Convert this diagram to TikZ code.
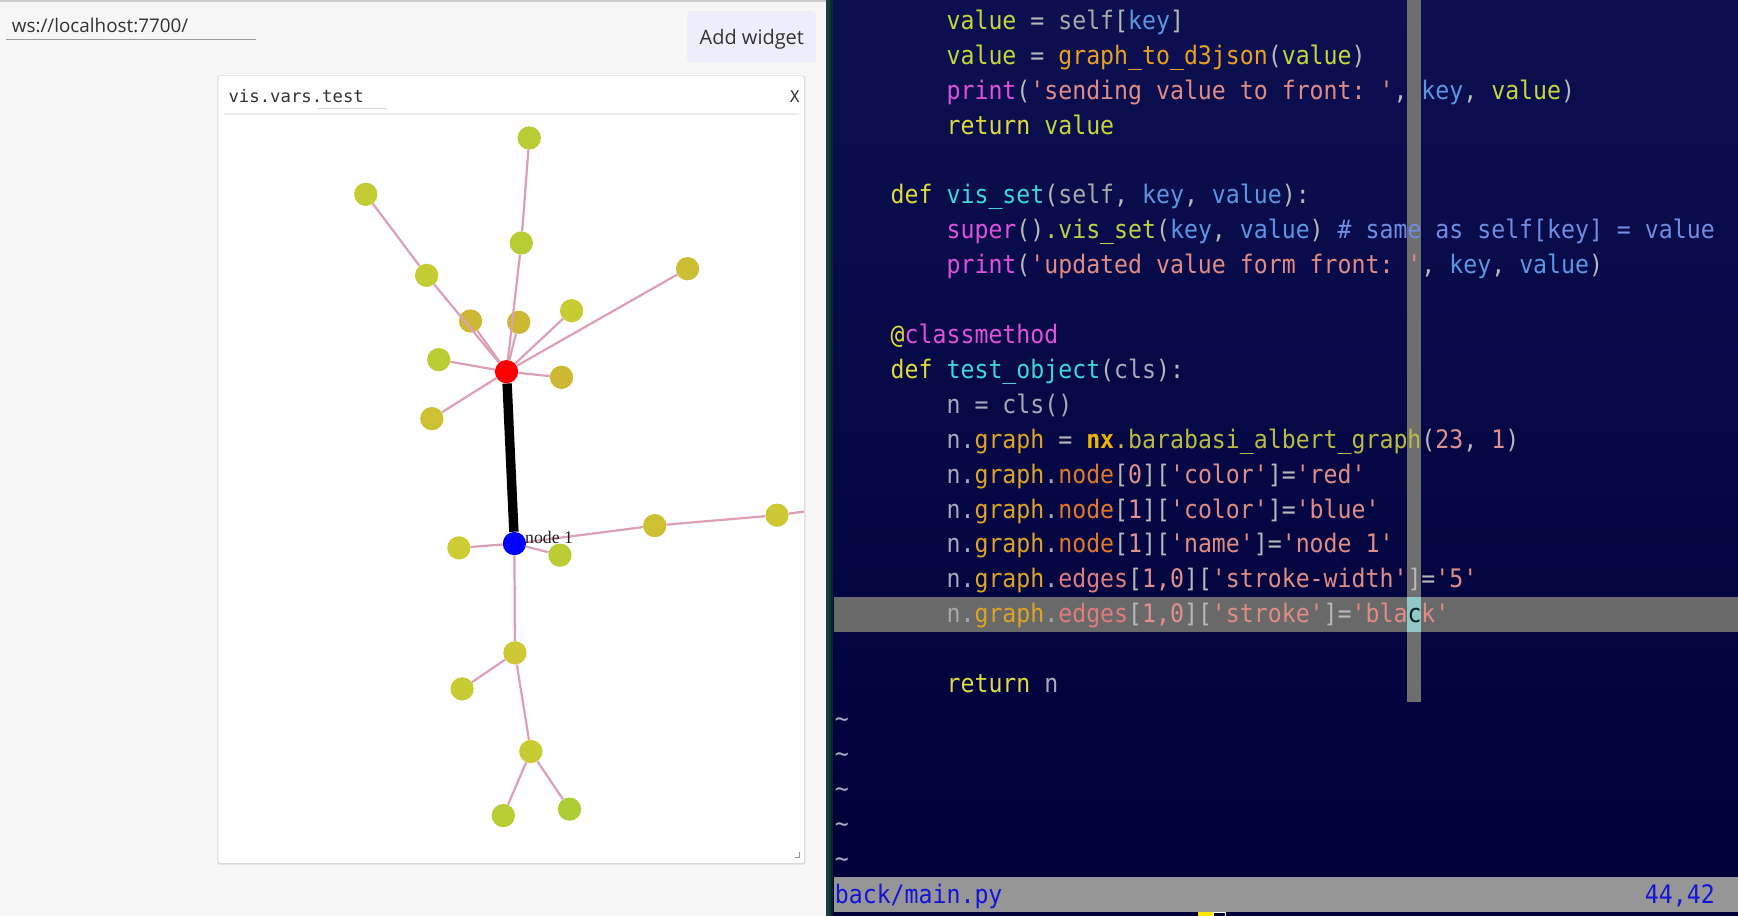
\documentclass[tikz,border=0pt]{standalone}
\usepackage{fontspec}
\newfontfamily\codefont{DejaVu Sans Mono}[WordSpace={1,0,0},PunctuationSpace=WordSpace]
\newfontfamily\vimfont{DejaVu Sans Mono}[FakeStretch=0.91,WordSpace={1,0,0},PunctuationSpace=WordSpace]
\newfontfamily\uisans{Open Sans}
\newfontfamily\nodeserif{Liberation Serif}
\definecolor{leftbg}{HTML}{F7F7F7}
\definecolor{sepA}{HTML}{173F3F}
\definecolor{sepB}{HTML}{0D2A2A}
\definecolor{navytop}{HTML}{0C1050}
\definecolor{navybot}{HTML}{00003A}
\definecolor{btnbg}{HTML}{EEEEFA}
\definecolor{uitext}{HTML}{333333}
\definecolor{cedge}{HTML}{DDA0B8}
\definecolor{cvar}{HTML}{C4D63A}
\definecolor{cop}{HTML}{B8B8B8}
\definecolor{cself}{HTML}{A8A8A8}
\definecolor{ckey}{HTML}{5C96E0}
\definecolor{cfn}{HTML}{E8A020}
\definecolor{cmag}{HTML}{E050D8}
\definecolor{cstr}{HTML}{E08C84}
\definecolor{ckw}{HTML}{DCDC3C}
\definecolor{cdef}{HTML}{3CD8D8}
\definecolor{cmeth}{HTML}{BCD048}
\definecolor{ccmt}{HTML}{6F8CE0}
\definecolor{cn}{HTML}{A8A8B8}
\definecolor{cgraph}{HTML}{E0A424}
\definecolor{cnx}{HTML}{F0B400}
\definecolor{cba}{HTML}{B8BC40}
\definecolor{cnode}{HTML}{E07828}
\definecolor{cedges}{HTML}{E07C7C}
\definecolor{cnum}{HTML}{E09090}
\definecolor{ctilde}{HTML}{A8A8C8}
\definecolor{cbar}{HTML}{6E6E6E}
\definecolor{chl}{HTML}{696969}
\definecolor{ccell}{HTML}{90C8C8}
\definecolor{ccur}{HTML}{102020}
\definecolor{cstatus}{HTML}{969696}
\definecolor{cstattext}{HTML}{1414D8}
\newcommand\tk[2]{\textcolor{#1}{#2}}
\begin{document}
\begin{tikzpicture}[x=1pt,y=-1pt,
  codeline/.style={anchor=base west, inner sep=0pt, font=\vimfont\fontsize{23}{27}\selectfont},
  gnode/.style={circle, minimum size=21pt, inner sep=0pt, draw=none},
  gedge/.style={draw=cedge, line width=2pt},
  uilabel/.style={inner sep=0pt, text=uitext}]
\useasboundingbox (0,0) rectangle (1568,826);
% backgrounds
\fill[leftbg] (0,0) rectangle (745,826);
\draw[line width=1.5pt, draw=black!20] (0,0.75) -- (745,0.75);
\fill[sepA] (745,0) rectangle (749,826);
\fill[sepB] (749,0) rectangle (751.5,826);
\fill[top color=navytop, bottom color=navybot] (751.5,0) rectangle (1568,826);
% URL field
\node[uilabel, anchor=base west, font=\uisans\fontsize{17}{20}\selectfont] (url) at (10.5,29) {ws://localhost:7700/};
\draw[draw=black!38, line width=1pt] (5.8,35.5) -- (230.7,35.5);
% Add widget button
\fill[btnbg, rounded corners=3pt] (620,10) rectangle (736,56.6);
\node[uilabel, anchor=base, font=\uisans\fontsize{18}{22}\selectfont] (addw) at (678.3,40.6) {Add widget};
% widget panel
\fill[black!14, rounded corners=2pt] (196,68) rectangle (726.5,780);
\fill[white, rounded corners=2pt] (197,68.5) rectangle (725.5,778.5);
\node[uilabel, anchor=base west, font=\codefont\fontsize{15.6}{18}\selectfont] (title) at (206,92.6) {vis.vars.test};
\draw[draw=black!15, line width=1pt] (287,97.7) -- (349,97.7);
\node[uilabel, anchor=base west, font=\codefont\fontsize{14.5}{18}\selectfont] (close) at (712.5,92.6) {X};
\draw[draw=black!7, line width=1.5pt] (202,103) -- (721,103);
\draw[draw=black!40, line width=0.8pt] (721.5,769) -- (721.5,773.5) -- (717,773.5);
% graph nodes
\node[gnode, fill=red] (n0) at (457,335.3) {};
\node[gnode, fill=blue] (n1) at (464.1,490.4) {};
\node[gnode, fill={rgb,255:red,184;green,204;blue,51}] (a1) at (477.5,124.5) {};
\node[gnode, fill={rgb,255:red,195;green,204;blue,51}] (a2) at (330,175.3) {};
\node[gnode, fill={rgb,255:red,184;green,204;blue,51}] (a3) at (470.3,219.2) {};
\node[gnode, fill={rgb,255:red,195;green,204;blue,51}] (a4) at (384.9,248.4) {};
\node[gnode, fill={rgb,255:red,205;green,191;blue,51}] (a5) at (620.3,242.4) {};
\node[gnode, fill={rgb,255:red,200;green,204;blue,51}] (a6) at (515.7,280.3) {};
\node[gnode, fill={rgb,255:red,205;green,184;blue,51}] (a7) at (424.5,289.6) {};
\node[gnode, fill={rgb,255:red,205;green,184;blue,51}] (a8) at (468,290.8) {};
\node[gnode, fill={rgb,255:red,188;green,204;blue,51}] (a9) at (395.8,324.5) {};
\node[gnode, fill={rgb,255:red,205;green,184;blue,51}] (a10) at (506.6,340.4) {};
\node[gnode, fill={rgb,255:red,205;green,192;blue,51}] (a11) at (389.6,377.7) {};
\node[gnode, fill={rgb,255:red,205;green,204;blue,51}] (b1) at (414,494.3) {};
\node[gnode, fill={rgb,255:red,188;green,204;blue,51}] (b2) at (505.2,500.9) {};
\node[gnode, fill={rgb,255:red,205;green,192;blue,51}] (b3) at (590.7,474.2) {};
\node[gnode, fill={rgb,255:red,205;green,200;blue,51}] (b4) at (701,464.8) {};
\node[gnode, fill={rgb,255:red,205;green,200;blue,51}] (b5) at (464.6,589) {};
\node[gnode, fill={rgb,255:red,200;green,204;blue,51}] (b6) at (416.9,621.5) {};
\node[gnode, fill={rgb,255:red,200;green,204;blue,51}] (b7) at (478.9,678) {};
\node[gnode, fill={rgb,255:red,184;green,204;blue,51}] (b8) at (454.1,735.8) {};
\node[gnode, fill={rgb,255:red,174;green,204;blue,51}] (b9) at (513.8,730) {};
\coordinate (bout) at (776,454.8);
% edges
\draw[gedge] (a1) -- (a3);
\draw[gedge] (a3) -- (n0);
\draw[gedge] (a8) -- (n0);
\draw[gedge] (a2) -- (a4);
\draw[gedge] (a4) -- (n0);
\draw[gedge] (a7) -- (n0);
\draw[gedge] (a5) -- (n0);
\draw[gedge] (a6) -- (n0);
\draw[gedge] (a9) -- (n0);
\draw[gedge] (a10) -- (n0);
\draw[gedge] (a11) -- (n0);
\draw[gedge] (n1) -- (b1);
\draw[gedge] (n1) -- (b2);
\draw[gedge] (n1) -- (b3);
\draw[gedge] (b3) -- (b4);
\begin{scope}
\clip (197,68.5) rectangle (725.5,778.5);
\draw[gedge] (b4) -- (bout);
\end{scope}
\draw[gedge] (n1) -- (b5);
\draw[gedge] (b5) -- (b6);
\draw[gedge] (b5) -- (b7);
\draw[gedge] (b7) -- (b8);
\draw[gedge] (b7) -- (b9);
\draw[black, line width=8.5pt] (n0) -- (n1);
\node[inner sep=0pt, anchor=base west, text={rgb,255:red,34;green,34;blue,34}, font=\nodeserif\fontsize{16}{18}\selectfont] (lab1) at (473.6,490.7) {node 1};
% editor: color column and cursor line
\fill[cbar] ({753+41*12.6},0) rectangle ({753+42*12.6},633);
\fill[chl] (752,538.8) rectangle (1568,570.3);
\fill[ccell] ({753+41*12.6},538.8) rectangle ({753+42*12.6},570.3);
% code lines
\node[codeline] (r0) at ({753+8*12.6},{26.4+31.5*0}) {\tk{cvar}{value}\tk{cop}{\ =\ }\tk{cself}{self}\tk{cop}{[}\tk{ckey}{key}\tk{cop}{]}};
\node[codeline] (r1) at ({753+8*12.6},{26.4+31.5*1}) {\tk{cvar}{value}\tk{cop}{\ =\ }\tk{cfn}{graph\_to\_d3json}\tk{cop}{(}\tk{cvar}{value}\tk{cop}{)}};
\node[codeline] (r2) at ({753+8*12.6},{26.4+31.5*2}) {\tk{cmag}{print}\tk{cop}{(}\tk{cstr}{'sending value to front:\ '}\tk{cop}{,\ }\tk{ckey}{key}\tk{cop}{,\ }\tk{cvar}{value}\tk{cop}{)}};
\node[codeline] (r3) at ({753+8*12.6},{26.4+31.5*3}) {\tk{ckw}{return}\tk{cop}{\ }\tk{cvar}{value}};
\node[codeline] (r5) at ({753+4*12.6},{26.4+31.5*5}) {\tk{ckw}{def}\tk{cop}{\ }\tk{cdef}{vis\_set}\tk{cop}{(}\tk{cself}{self}\tk{cop}{,\ }\tk{ckey}{key}\tk{cop}{,\ }\tk{ckey}{value}\tk{cop}{):}};
\node[codeline] (r6) at ({753+8*12.6},{26.4+31.5*6}) {\tk{cmag}{super}\tk{cop}{()}\tk{cmeth}{.vis\_set}\tk{cop}{(}\tk{ckey}{key}\tk{cop}{,\ }\tk{ckey}{value}\tk{cop}{)}\tk{ccmt}{\ \#\ same\ as\ self[key]\ =\ value}};
\node[codeline] (r7) at ({753+8*12.6},{26.4+31.5*7}) {\tk{cmag}{print}\tk{cop}{(}\tk{cstr}{'updated value form front:\ '}\tk{cop}{,\ }\tk{ckey}{key}\tk{cop}{,\ }\tk{ckey}{value}\tk{cop}{)}};
\node[codeline] (r9) at ({753+4*12.6},{26.4+31.5*9}) {\tk{ckw}{@}\tk{cmag}{classmethod}};
\node[codeline] (r10) at ({753+4*12.6},{26.4+31.5*10}) {\tk{ckw}{def}\tk{cop}{\ }\tk{cdef}{test\_object}\tk{cop}{(}\tk{cn}{cls}\tk{cop}{):}};
\node[codeline] (r11) at ({753+8*12.6},{26.4+31.5*11}) {\tk{cn}{n\ =\ cls()}};
\node[codeline] (r12) at ({753+8*12.6},{26.4+31.5*12}) {\tk{cn}{n.}\tk{cgraph}{graph}\tk{cop}{\ =\ }\tk{cnx}{\bfseries nx}\tk{cba}{.barabasi\_albert\_graph}\tk{cop}{(}\tk{cnum}{23}\tk{cop}{,\ }\tk{cnum}{1}\tk{cop}{)}};
\node[codeline] (r13) at ({753+8*12.6},{26.4+31.5*13}) {\tk{cn}{n.}\tk{cgraph}{graph}\tk{cn}{.}\tk{cnode}{node}\tk{cop}{[}\tk{cnum}{0}\tk{cop}{][}\tk{cstr}{'color'}\tk{cop}{]=}\tk{cstr}{'red'}};
\node[codeline] (r14) at ({753+8*12.6},{26.4+31.5*14}) {\tk{cn}{n.}\tk{cgraph}{graph}\tk{cn}{.}\tk{cnode}{node}\tk{cop}{[}\tk{cnum}{1}\tk{cop}{][}\tk{cstr}{'color'}\tk{cop}{]=}\tk{cstr}{'blue'}};
\node[codeline] (r15) at ({753+8*12.6},{26.4+31.5*15}) {\tk{cn}{n.}\tk{cgraph}{graph}\tk{cn}{.}\tk{cnode}{node}\tk{cop}{[}\tk{cnum}{1}\tk{cop}{][}\tk{cstr}{'name'}\tk{cop}{]=}\tk{cstr}{'node\ 1'}};
\node[codeline] (r16) at ({753+8*12.6},{26.4+31.5*16}) {\tk{cn}{n.}\tk{cgraph}{graph}\tk{cn}{.}\tk{cedges}{edges}\tk{cop}{[}\tk{cnum}{1,0}\tk{cop}{][}\tk{cstr}{'stroke-width'}\tk{cop}{]=}\tk{cstr}{'5'}};
\node[codeline] (r17) at ({753+8*12.6},{26.4+31.5*17}) {\tk{cself}{n.}\tk{cgraph}{graph}\tk{cn}{.}\tk{cedges}{edges}\tk{cop}{[}\tk{cnum}{1,0}\tk{cop}{][}\tk{cstr}{'stroke'}\tk{cop}{]=}\tk{cstr}{'bla}\tk{ccur}{c}\tk{cstr}{k'}};
\node[codeline] (r19) at ({753+8*12.6},{26.4+31.5*19}) {\tk{ckw}{return}\tk{cop}{\ }\tk{cn}{n}};
\foreach \r in {20,...,24}{
  \node[codeline, text=ctilde] (t\r) at (753,{26.4+31.5*\r}) {\string~};
}
% status line
\fill[cstatus] (752,791) rectangle (1568,822.5);
\node[codeline, text=cstattext] (fname) at (753,814.8) {back/main.py};
\node[codeline, text=cstattext] (pos) at ({753+58*12.6},814.8) {44,42};
\fill[yellow!90!orange] (1081,823) rectangle (1094,826);
\draw[white, line width=0.6pt] (1094.5,823.5) rectangle (1105.5,826.5);
\end{tikzpicture}
\end{document}
